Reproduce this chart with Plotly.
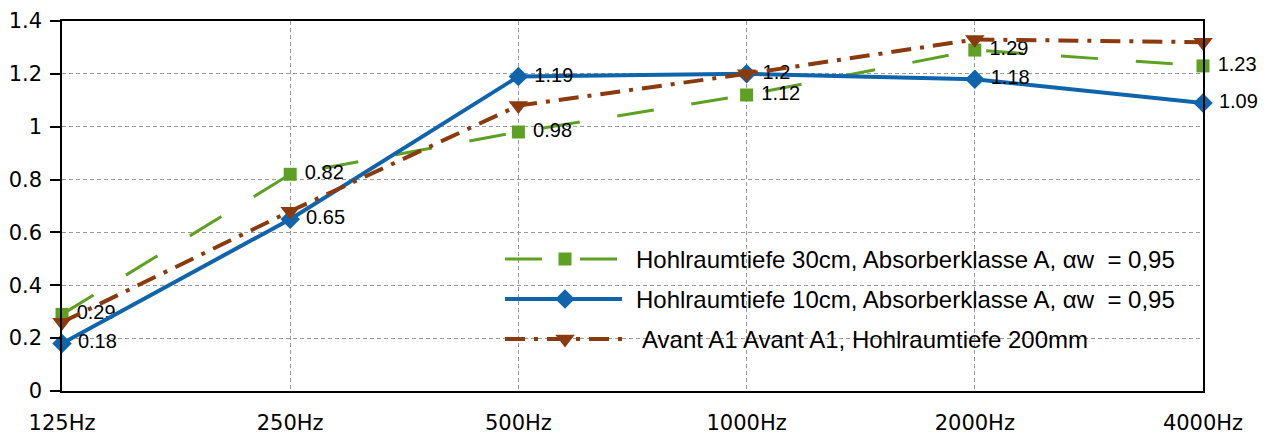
import plotly.graph_objects as go

categories = ["125Hz", "250Hz", "500Hz", "1000Hz", "2000Hz", "4000Hz"]
hohl30 = [0.29, 0.82, 0.98, 1.12, 1.29, 1.23]
hohl10 = [0.18, 0.65, 1.19, 1.2, 1.18, 1.09]
avant = [0.26, 0.68, 1.08, 1.2, 1.33, 1.32]

names = [
    "Hohlraumtiefe 30cm, Absorberklasse A, \u03b1w\u00a0 = 0,95",
    "Hohlraumtiefe 10cm, Absorberklasse A, \u03b1w\u00a0 = 0,95",
    "Avant A1 Avant A1, Hohlraumtiefe 200mm",
]
y_ticks = [0, 0.2, 0.4, 0.6, 0.8, 1, 1.2, 1.4]
y_ticktext = ["0", "0.2", "0.4", "0.6", "0.8", "1", "1.2", "1.4"]

GREEN = "#5ea023"
BLUE = "#0f64ab"
BROWN = "#8b3a0e"
LABEL_FONT = dict(family="Liberation Sans, Arial, sans-serif", size=20, color="#000000")
TICK_FONT = dict(family="DejaVu Sans, sans-serif", size=21, color="#000000")

styles = [
    dict(color=GREEN, width=3, dash="37px,38px", symbol="square", msize=13, labels=True),
    dict(color=BLUE, width=4, dash="solid", symbol="diamond", msize=15, labels=True),
    dict(color=BROWN, width=4, dash="20px,9px,4px,9px", symbol="triangle-down", msize=17, labels=False),
]
series = [hohl30, hohl10, avant]

fig = go.Figure()
for vals, st, nm in zip(series, styles, names):
    fig.add_trace(go.Scatter(
        x=categories, y=vals, name=nm,
        mode="lines+markers+text" if st["labels"] else "lines+markers",
        text=["\u00a0" + str(v) for v in vals] if st["labels"] else None,
        textposition="middle right",
        textfont=LABEL_FONT,
        line=dict(color=st["color"], width=st["width"], dash=st["dash"]),
        marker=dict(symbol=st["symbol"], size=st["msize"], color=st["color"],
                    line=dict(width=0)),
        cliponaxis=False,
        showlegend=False,
    ))

# page body has an 8px margin: offset everything by it
OFF = 8
W, H = 1273 - 2 * OFF, 435 - OFF
# plot area in window pixels (as measured on the reference)
L, R, T, B = 62, 1203, 21, 391

# Manual legend drawn on an overlay axis measured in window pixels
leg_rows = [259, 299, 339]
leg_x0, leg_x1, leg_mx = 505, 622, 565
leg_text_x = [634, 634, 640]
for row_y, st, nm, tx in zip(leg_rows, styles, names, leg_text_x):
    fig.add_trace(go.Scatter(
        x=[leg_x0, leg_x1], y=[row_y, row_y], mode="lines",
        line=dict(color=st["color"], width=st["width"], dash=st["dash"]),
        xaxis="x2", yaxis="y2", showlegend=False, hoverinfo="skip",
    ))
    fig.add_trace(go.Scatter(
        x=[leg_mx], y=[row_y], mode="markers",
        marker=dict(symbol=st["symbol"], size=st["msize"], color=st["color"], line=dict(width=0)),
        xaxis="x2", yaxis="y2", showlegend=False, hoverinfo="skip",
    ))
    fig.add_annotation(
        x=tx, y=row_y, xref="x2", yref="y2", text=nm, showarrow=False,
        xanchor="left", yanchor="middle",
        font=dict(family="Liberation Sans, Arial, sans-serif", size=24, color="#000000"),
    )

grid = dict(showgrid=True, gridcolor="#9a9a9a", gridwidth=1, griddash="4px,3px")
fig.update_layout(
    width=W, height=H,
    margin=dict(l=L - OFF, r=W - (R - OFF), t=T - OFF, b=H - (B - OFF), pad=0,
                autoexpand=False),
    paper_bgcolor="white", plot_bgcolor="white",
    showlegend=False,
    xaxis=dict(
        type="category", range=[0, len(categories) - 1], automargin=False,
        showline=True, linecolor="#000000", linewidth=1.5, mirror=True,
        ticks="", tickfont=TICK_FONT, ticklabelstandoff=12,
        zeroline=False, **grid,
    ),
    yaxis=dict(
        range=[0, 1.4], tickvals=y_ticks, ticktext=y_ticktext, automargin=False,
        showline=True, linecolor="#000000", linewidth=1.5, mirror=True,
        ticks="outside", ticklen=10, tickcolor="#000000", tickwidth=1.5,
        tickfont=TICK_FONT, ticklabelstandoff=4,
        zeroline=False, **grid,
    ),
    xaxis2=dict(overlaying="x", range=[L, R], visible=False, fixedrange=True),
    yaxis2=dict(overlaying="y", range=[B, T], visible=False, fixedrange=True),
)

fig.write_html("out.html")
